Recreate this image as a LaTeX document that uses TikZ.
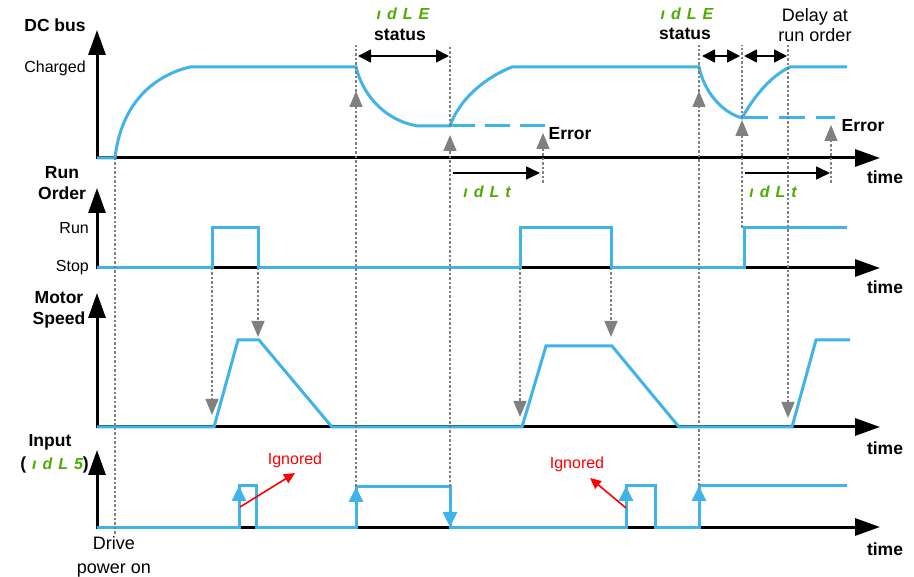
\documentclass[tikz,border=0pt]{standalone}
\usepackage{fontspec}
\setmainfont{Liberation Sans}
\usetikzlibrary{arrows.meta}
\definecolor{sigblue}{RGB}{64,180,230}
\definecolor{seggreen}{RGB}{76,172,0}
\definecolor{hintgray}{RGB}{128,128,128}
\newcommand{\sg}{\hspace{6pt}}
\newcommand{\segtxt}[1]{{\color{seggreen}\fontsize{16}{16}\selectfont\bfseries\itshape #1}}

\begin{document}
\begin{tikzpicture}[x=1pt, y=-1pt,
  axis/.style={line width=3pt, -{Triangle[length=25pt,width=17pt]}},
  signal/.style={sigblue, line width=3pt, line join=miter},
  edgetip/.style={signal, -{Triangle[length=15pt,width=14pt]}},
  hint/.style={hintgray, line width=1.4pt, dash pattern=on 2.5pt off 2pt},
  hinttip/.style={hint, -{Triangle[length=16pt,width=13pt]}},
  span/.style={line width=1.6pt, {Triangle[length=13pt,width=13pt]}-{Triangle[length=13pt,width=13pt]}},
  delayarrow/.style={line width=1.6pt, -{Triangle[length=14pt,width=13pt]}},
  ignorearrow/.style={red, line width=1.6pt, -{Triangle[length=11pt,width=10pt]}},
  lbl/.style={font=\fontsize{16}{19}\selectfont, inner sep=0pt},
  blbl/.style={font=\fontsize{17.5}{21}\selectfont\bfseries, inner sep=0pt},
  seg/.style={inner sep=0pt, font=\color{seggreen}\fontsize{16}{16}\selectfont\bfseries\itshape}]
  \useasboundingbox (0,0) rectangle (914,577);

  % four time axes
  \foreach \ya/\yt in {158/30, 268/188, 427/293, 527/450}{
    \draw[axis] (95.5,\ya) -- (880,\ya);
    \draw[axis] (97,\ya) -- (97,\yt);
  }

  % DC bus
  \draw[signal] (97,158) -- (115,158) .. controls (121,105) and (152,76) .. (190,67)
    -- (356,67) .. controls (363,96) and (386,121) .. (418,126) -- (450,126)
    .. controls (459,100) and (484,78) .. (512,67) -- (699,67)
    .. controls (704,91) and (721,112) .. (742,118)
    .. controls (755,95) and (771,76) .. (790,67) -- (847,67);
  \draw[signal, dash pattern=on 25pt off 10pt] (450,126) -- (545,126);
  \draw[signal, dash pattern=on 26pt off 11pt] (742,118) -- (835,118);

  % run order
  \draw[signal] (97,268) -- (212,268) -- (212,228) -- (258,228) -- (258,268)
    -- (520,268) -- (520,228) -- (611,228) -- (611,268)
    -- (744,268) -- (744,228) -- (847,228);

  % motor speed
  \draw[signal] (97,427) -- (214,427) -- (238,340) -- (259,340) -- (332,427)
    -- (522,427) -- (546,346) -- (612,346) -- (679,427)
    -- (792,427) -- (816,340) -- (850,340);

  % input idLS
  \draw[signal] (97,527) -- (239,527) -- (239,486) -- (256,486) -- (256,527)
    -- (356,527) -- (356,487) -- (450,487) -- (450,527)
    -- (626,527) -- (626,486) -- (655,486) -- (655,527)
    -- (699,527) -- (699,486) -- (847,486);
  \foreach \ex/\ey in {239/486, 356/487, 626/486, 699/486}
    \draw[edgetip] (\ex,527) -- (\ex,\ey);
  \draw[edgetip] (450,487) -- (450,527);

  % grey cause -> effect lines
  \draw[hint] (115,158) -- (115,535);
  \foreach \hx/\hfrom/\hto in {356/487/91, 450/487/135, 699/486/91, 742/228/120}
    \draw[hinttip] (\hx,\hfrom) -- (\hx,\hto);
  \foreach \hx/\hy in {356/92, 450/126, 699/92, 742/118}
    \draw[hint] (\hx,\hy) -- (\hx,45);
  \draw[hinttip] (543,183) -- (543,133);
  \draw[hinttip] (831,183) -- (831,125);
  \foreach \hx/\hto in {212/415, 258/337, 520/417, 611/337}
    \draw[hinttip] (\hx,268) -- (\hx,\hto);
  \draw[hinttip] (788,45) -- (788,418);

  % status and delay spans
  \draw[span] (358,56) -- (449,56);
  \draw[span] (702,56) -- (740,56);
  \draw[span] (744,56) -- (787,56);
  \draw[delayarrow] (453,173) -- (540,173);
  \draw[delayarrow] (745,173) -- (830,173);

  % ignored pulses
  \coordinate (ign1) at (295,473);
  \coordinate (ign2) at (590,478);
  \draw[ignorearrow] (240,507) -- (ign1);
  \draw[ignorearrow] (626,508) -- (ign2);
  \node[lbl, red] (ignored1) at (295,460) {Ignored};
  \node[lbl, red] (ignored2) at (577,464) {Ignored};

  % axis labels
  \node[blbl] (dcbus) at (55,25) {DC bus};
  \node[lbl] (charged) at (55,68) {Charged};
  \node[blbl, align=center] (runorder) at (62,183) {Run\\Order};
  \node[lbl, anchor=east] (run) at (89,228) {Run};
  \node[lbl, anchor=east] (stop) at (89,268) {Stop};
  \node[blbl, align=center] (motor) at (59,310) {Motor\\Speed};
  \node[blbl] (input) at (50,442) {Input};
  \node[blbl, anchor=east] (inputpar) at (89,465) {(\hspace{6pt}\segtxt{ı\sg d\sg L\sg 5})};
  \foreach \ty [count=\i] in {177,287,448,549}
    \node[blbl] (time\i) at (885,\ty) {time};

  % texts in the DC bus chart
  \node[seg] (idle1) at (403,14) {ı\sg d\sg L\sg E};
  \node[blbl] (status1) at (400,35) {status};
  \node[seg] (idle2) at (687,14) {ı\sg d\sg L\sg E};
  \node[blbl] (status2) at (685,34) {status};
  \node[font=\fontsize{18}{20}\selectfont, align=center, inner sep=0pt] (delay) at (815,25) {Delay at\\run order};
  \node[blbl] (error1) at (570,134) {Error};
  \node[blbl] (error2) at (863,126) {Error};
  \node[seg] (idlt1) at (487,192) {ı\sg d\sg L\sg t};
  \node[seg] (idlt2) at (773,192) {ı\sg d\sg L\sg t};
  \node[font=\fontsize{18}{24}\selectfont, align=center, inner sep=0pt] (drive) at (114,557) {Drive\\power on};
\end{tikzpicture}
\end{document}
